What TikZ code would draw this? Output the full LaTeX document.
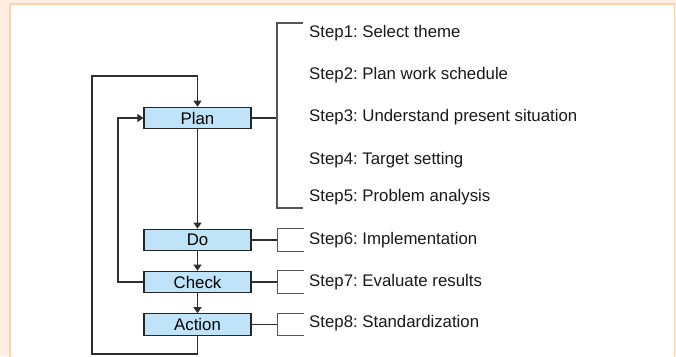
\documentclass[tikz,border=0pt]{standalone}
\usepackage{fontspec}
\setmainfont{Liberation Sans}
\frenchspacing
\usetikzlibrary{arrows.meta}
\definecolor{peach}{HTML}{FEEEE1}
\definecolor{peachline}{HTML}{FDD3B0}
\definecolor{boxfill}{HTML}{BFE3F8}
\definecolor{linegray}{HTML}{2E2E2E}
\definecolor{brackgray}{HTML}{555555}
\tikzset{
  stage/.style={draw=black!85, line width=1.2pt, fill=boxfill, minimum width=107pt,
    minimum height=21.5pt, inner sep=0pt, font=\fontsize{16.8}{20}\selectfont},
  steptext/.style={anchor=west, inner sep=0pt, font=\fontsize{16.8}{20}\selectfont, text=black!90},
  flow/.style={draw=linegray, line width=1.3pt},
  arr/.style={flow, -{Triangle[length=6pt,width=8pt]}},
  brack/.style={draw=brackgray, line width=1.2pt}
}
\begin{document}
\begin{tikzpicture}[x=1pt,y=-1pt]
  % page background and panel
  \fill[peach] (0,0) rectangle (676,356);
  \useasboundingbox (0,0) rectangle (676,356);
  \filldraw[fill=white, draw=peachline, line width=1.5pt] (10,4) rectangle (674.5,360);

  % PDCA stages
  \node[stage] (plan)   at (197.5,118)   {Plan};
  \node[stage] (do)     at (197.5,240)   {Do};
  \node[stage] (check)  at (197.5,282)   {Check};
  \node[stage] (action) at (197.5,324.5) {Action};

  % step descriptions
  \node[steptext] (s1) at (309,33)  {Step1: Select theme};
  \node[steptext] (s2) at (309,75)  {Step2: Plan work schedule};
  \node[steptext] (s3) at (309,117) {Step3: Understand present situation};
  \node[steptext] (s4) at (309,160) {Step4: Target setting};
  \node[steptext] (s5) at (309,197) {Step5: Problem analysis};
  \node[steptext] (s6) at (309,240) {Step6: Implementation};
  \node[steptext] (s7) at (309,282) {Step7: Evaluate results};
  \node[steptext] (s8) at (309,323.5) {Step8: Standardization};

  % loop corners
  \coordinate (outbot) at (92,354);
  \coordinate (outtop) at (92,76);
  \coordinate (inleft) at (118,282);

  % main flow
  \draw[arr] (plan) -- (do);
  \draw[arr] (do) -- (check);
  \draw[arr] (check) -- (action);

  % outer loop: Action back to Plan
  \draw[arr] (action.south) -- (action.south |- outbot) -- (outbot) -- (outtop)
    -- (plan.north |- outtop) -- (plan.north);
  % inner loop: Check back to Plan
  \draw[arr] (check.west) -- (inleft) -- (inleft |- plan.west) -- (plan.west);

  % bracket grouping steps 1-5
  \coordinate (bt) at (277,23);
  \coordinate (bb) at (277,208);
  \draw[flow] (plan.east) -- (plan.east -| bt);
  \draw[brack] (303,23) -- (bt) -- (bb) -- (303,208);

  % brackets for steps 6-8
  \foreach \n in {do,check,action}{
    \draw[flow] (\n.east) -- ++(26,0);
    \draw[brack] ([xshift=52pt]\n.north east) -- ([xshift=26pt]\n.north east)
      -- ([xshift=26pt]\n.south east) -- ([xshift=52pt]\n.south east);
  }
\end{tikzpicture}
\end{document}
